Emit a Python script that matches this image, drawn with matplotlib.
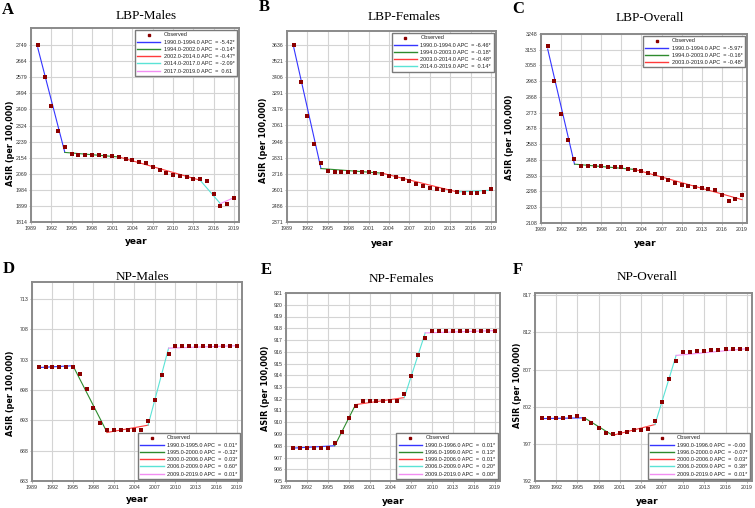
import matplotlib
matplotlib.use('Agg')
import matplotlib.pyplot as plt
from matplotlib.lines import Line2D

W, H = 755, 508

years = list(range(1990, 2020))
xticks = [1989, 1992, 1995, 1998, 2001, 2004, 2007, 2010, 2013, 2016, 2019]

# A - LBP males
lbp_m_obs = [2749, 2579, 2425, 2296, 2209, 2172, 2168, 2168, 2168, 2166,
             2164, 2161, 2156, 2149, 2142, 2133, 2124, 2107, 2089, 2073,
             2062, 2057, 2050, 2044, 2039, 2030, 1964, 1897, 1907, 1941]
lbp_m_jp = [1990, 1994, 2002, 2014, 2017, 2019]
lbp_m_fit = [2735, 2182, 2158, 2035, 1911, 1943]
lbp_m_apc = ['-5.42*', '-0.14*', '-0.47*', '-2.09*', ' 0.61']
lbp_m_yticks = [1814, 1899, 1984, 2069, 2154, 2239, 2324, 2409, 2494, 2579, 2664, 2749]

# B - LBP females
lbp_f_obs = [3636, 3371, 3130, 2932, 2791, 2739, 2731, 2731, 2731, 2731,
             2729, 2727, 2720, 2712, 2700, 2691, 2679, 2662, 2646, 2629,
             2617, 2607, 2600, 2591, 2583, 2581, 2581, 2579, 2583, 2607]
lbp_f_jp = [1990, 1994, 2003, 2014, 2019]
lbp_f_fit = [3617, 2753, 2720, 2586, 2598]
lbp_f_apc = ['-6.46*', '-0.18*', '-0.48*', ' 0.14*']
lbp_f_yticks = [2371, 2486, 2601, 2716, 2831, 2946, 3061, 3176, 3291, 3406, 3521, 3636]

# C - LBP overall
lbp_o_obs = [3173, 2966, 2768, 2606, 2497, 2453, 2451, 2449, 2449, 2447,
             2447, 2443, 2435, 2429, 2419, 2411, 2401, 2382, 2366, 2350,
             2340, 2334, 2328, 2320, 2314, 2308, 2275, 2243, 2251, 2279]
lbp_o_jp = [1990, 1994, 2003, 2019]
lbp_o_fit = [3157, 2463, 2431, 2249]
lbp_o_apc = ['-5.97*', '-0.16*', '-0.48*']
lbp_o_yticks = [2108, 2203, 2298, 2393, 2488, 2583, 2678, 2773, 2868, 2963, 3058, 3153, 3248]

# D - NP males
np_m_obs = [701.8, 701.8, 701.8, 701.8, 701.8, 701.8, 700.7, 698.1, 695.1, 692.5,
            691.4, 691.4, 691.4, 691.4, 691.4, 691.4, 692.9, 696.3, 700.4, 703.9,
            705.3, 705.3, 705.3, 705.3, 705.3, 705.3, 705.3, 705.3, 705.3, 705.3]
np_m_jp = [1990, 1995, 2000, 2006, 2009, 2019]
np_m_fit = [701.7, 702.0, 691.0, 692.2, 704.9, 705.3]
np_m_apc = [' 0.01*', '-0.32*', ' 0.03*', ' 0.60*', ' 0.01*']
np_m_yticks = [683, 688, 693, 698, 703, 708, 713]

# E - NP females
np_f_obs = [907.8, 907.8, 907.8, 907.8, 907.8, 907.8, 908.26, 909.2, 910.4, 911.4,
            911.78, 911.78, 911.78, 911.78, 911.78, 911.78, 912.4, 913.9, 915.7, 917.2,
            917.8, 917.8, 917.8, 917.8, 917.8, 917.8, 917.8, 917.8, 917.8, 917.8]
np_f_jp = [1990, 1996, 1999, 2006, 2009, 2019]
np_f_fit = [907.8, 908.0, 911.5, 912.1, 917.6, 917.8]
np_f_apc = [' 0.01*', ' 0.13*', ' 0.01*', ' 0.20*', ' 0.00*']
np_f_yticks = [905, 906, 907, 908, 909, 910, 911, 912, 913, 914, 915, 916, 917, 918, 919, 920, 921]

# F - NP overall
np_o_obs = [800.5, 800.5, 800.5, 800.5, 800.6, 800.7, 800.4, 799.8, 799.1, 798.5,
            798.3, 798.5, 798.6, 798.8, 798.9, 799.0, 800.1, 802.6, 805.7, 808.2,
            809.3, 809.4, 809.5, 809.5, 809.6, 809.6, 809.7, 809.7, 809.7, 809.7]
np_o_jp = [1990, 1996, 2000, 2006, 2009, 2019]
np_o_fit = [800.4, 800.5, 798.15, 799.6, 808.9, 809.8]
np_o_apc = ['-0.00', '-0.07*', ' 0.03*', ' 0.38*', ' 0.01*']
np_o_yticks = [792, 797, 802, 807, 812, 817]

seg_colors = ['#3535ff', '#2e8b2e', '#ff3b3b', '#5ae3d6', '#f28df2']
obs_color = '#8b0000'
frame_color = '#8a8a8a'

fig = plt.figure(figsize=(W / 100, H / 100), dpi=100)


def fx(x):
    return x / W


def fy(y):
    return 1 - y / H


def draw_panel(box, letter, letter_xy, title, title_xy, ylab_xy, xlab_xy,
               obs, jp, fit, apc, yticks, ylim, legend_loc):
    left, top, right, bottom = box
    ax = fig.add_axes([fx(left), fy(bottom), (right - left) / W, (bottom - top) / H])

    for i in range(len(jp) - 1):
        ax.plot(jp[i:i + 2], fit[i:i + 2], color=seg_colors[i], lw=0.8, zorder=2)
    ax.scatter(years, obs, marker='s', s=7, color=obs_color, lw=0, zorder=3)

    ax.set_xlim(1989, 2019.75)
    ax.set_ylim(*ylim)
    ax.set_xticks(xticks)
    ax.set_yticks(yticks)
    ax.tick_params(labelsize=3.8, length=1.5, width=0.5, color='#999999',
                   labelcolor='#333333', pad=1.2)
    for lab in ax.get_xticklabels() + ax.get_yticklabels():
        lab.set_family('Liberation Sans')
    ax.grid(True, color='#d4d4d4', lw=0.8)
    ax.set_axisbelow(True)
    for sp in ax.spines.values():
        sp.set_color(frame_color)
        sp.set_linewidth(1.4)

    handles = [Line2D([], [], marker='s', ls='none', color=obs_color, markersize=2)]
    labels = ['Observed']
    for i in range(len(jp) - 1):
        handles.append(Line2D([], [], color=seg_colors[i], lw=1.0))
        labels.append(f'{jp[i]}.0-{jp[i + 1]}.0 APC  = {apc[i]}')
    leg = ax.legend(handles, labels, loc=legend_loc, fontsize=4, frameon=True,
                    fancybox=False, edgecolor='#7a7a7a', framealpha=1,
                    borderaxespad=0.4, handlelength=4.2, handletextpad=0.6,
                    labelspacing=0.4, borderpad=0.4)
    leg.get_frame().set_linewidth(1.0)
    for t in leg.get_texts():
        t.set_family('Liberation Sans')
        t.set_color('#222222')

    fig.text(fx(letter_xy[0]), fy(letter_xy[1]), letter, fontsize=12,
             fontweight='bold', family='Liberation Serif', ha='left', va='center')
    fig.text(fx(title_xy[0]), fy(title_xy[1]), title, fontsize=9.5,
             family='Liberation Serif', ha='center', va='center')
    fig.text(fx(ylab_xy[0]), fy(ylab_xy[1]), 'ASIR (per 100,000)', fontsize=5.8,
             fontweight='bold', rotation=90, ha='center', va='center')
    fig.text(fx(xlab_xy[0]), fy(xlab_xy[1]), 'year', fontsize=6.5,
             fontweight='bold', ha='center', va='center')
    return ax


draw_panel((31, 28, 239, 222), 'A', (2, 10), 'LBP-Males', (146, 16), (11, 143), (136, 241),
           lbp_m_obs, lbp_m_jp, lbp_m_fit, lbp_m_apc, lbp_m_yticks, (1814, 2840), 'upper right')
draw_panel((287, 31, 496, 222), 'B', (259, 7), 'LBP-Females', (404, 17), (264, 140), (382, 244),
           lbp_f_obs, lbp_f_jp, lbp_f_fit, lbp_f_apc, lbp_f_yticks, (2371, 3736), 'upper right')
draw_panel((541, 34, 747, 223), 'C', (512, 9), 'LBP-Overall', (650, 18), (510, 137), (645, 243),
           lbp_o_obs, lbp_o_jp, lbp_o_fit, lbp_o_apc, lbp_o_yticks, (2108, 3248), 'upper right')
draw_panel((32, 282, 242, 481), 'D', (3, 269), 'NP-Males', (142, 277), (11, 393), (137, 500),
           np_m_obs, np_m_jp, np_m_fit, np_m_apc, np_m_yticks, (683, 715.8), 'lower right')
draw_panel((286, 293, 500, 481), 'E', (261, 270), 'NP-Females', (401, 279), (266, 388), (393, 501),
           np_f_obs, np_f_jp, np_f_fit, np_f_apc, np_f_yticks, (905, 921), 'lower right')
draw_panel((535, 293, 752, 481), 'F', (513, 270), 'NP-Overall', (647, 277), (517, 385), (647, 502),
           np_o_obs, np_o_jp, np_o_fit, np_o_apc, np_o_yticks, (792, 817.3), 'lower right')

fig.savefig('out.png', dpi=100)
